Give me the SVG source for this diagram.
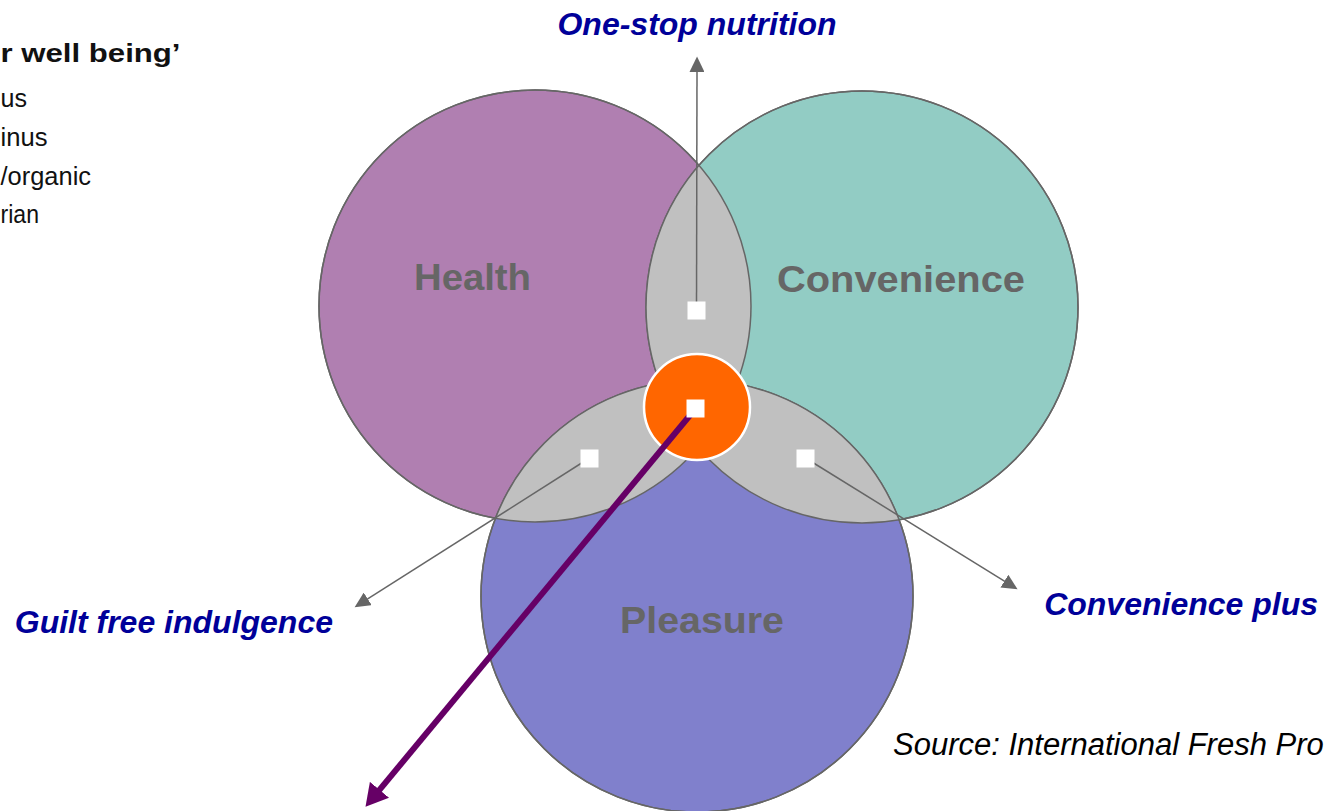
<svg xmlns="http://www.w3.org/2000/svg" width="1325" height="811" viewBox="0 0 1325 811">
  <style>
    text { font-family: "Liberation Sans", Arial, sans-serif; }
    .set { stroke: #666666; stroke-width: 1.5; }
    .ring { fill: none; stroke: #666666; stroke-width: 1.5; }
    .lens { fill: #c0c0c0; }
    .circle-label { font-size: 37px; font-weight: bold; fill: #666666; }
    .callout { font-size: 32px; font-weight: bold; font-style: italic; fill: #000099; }
    .list { font-size: 26px; fill: #111111; }
    .link { stroke: #666666; stroke-width: 1.5; fill: none; marker-end: url(#head); }
    .main-link { stroke: #660066; stroke-width: 6; fill: none; marker-end: url(#bighead); }
    .dot { fill: #ffffff; }
  </style>
  <defs>
    <clipPath id="clipH"><circle cx="535" cy="306" r="216"/></clipPath>
    <clipPath id="clipC"><circle cx="862" cy="307" r="216"/></clipPath>
    <marker id="head" markerUnits="userSpaceOnUse" markerWidth="16" markerHeight="15" refX="0.5" refY="7.5" orient="auto" viewBox="0 0 16 15">
      <path d="M0,0 L15.5,7.5 L0,15 z" fill="#666666"/>
    </marker>
    <marker id="bighead" markerUnits="userSpaceOnUse" markerWidth="23" markerHeight="25" refX="1" refY="12.5" orient="auto" viewBox="0 0 23 25">
      <path d="M0,0 L22,12.5 L0,25 z" fill="#660066"/>
    </marker>
  </defs>

  <!-- heading fragment and list, top left -->
  <g id="heading">
    <text x="0.5" y="62" font-size="26" font-weight="bold" fill="#111111" textLength="180" lengthAdjust="spacingAndGlyphs">r well being’</text>
    <text class="list" x="0.5" y="107" textLength="26.5" lengthAdjust="spacingAndGlyphs">us</text>
    <text class="list" x="0.5" y="146" textLength="47" lengthAdjust="spacingAndGlyphs">inus</text>
    <text class="list" x="0.5" y="185" textLength="90.5" lengthAdjust="spacingAndGlyphs">/organic</text>
    <text class="list" x="0.5" y="223" textLength="38.5" lengthAdjust="spacingAndGlyphs">rian</text>
  </g>

  <!-- the three sets -->
  <g id="health">
    <circle class="set" cx="535" cy="306" r="216" fill="#b07fb1"/>
  </g>
  <g id="convenience">
    <circle class="set" cx="862" cy="307" r="216" fill="#92ccc4"/>
  </g>
  <g id="pleasure">
    <circle class="set" cx="697" cy="596" r="216" fill="#8080cc"/>
  </g>

  <!-- pairwise overlaps -->
  <g id="overlaps">
    <circle class="lens" cx="862" cy="307" r="216" clip-path="url(#clipH)"/>
    <circle class="lens" cx="697" cy="596" r="216" clip-path="url(#clipH)"/>
    <circle class="lens" cx="697" cy="596" r="216" clip-path="url(#clipC)"/>
    <circle class="ring" cx="535" cy="306" r="216"/>
    <circle class="ring" cx="862" cy="307" r="216"/>
    <circle class="ring" cx="697" cy="596" r="216"/>
  </g>

  <g id="core">
    <circle cx="697" cy="407" r="53" fill="#ff6600" stroke="#ffffff" stroke-width="2.5"/>
  </g>

  <!-- set labels -->
  <g id="labels">
    <text class="circle-label" x="414" y="290" textLength="117" lengthAdjust="spacingAndGlyphs">Health</text>
    <text class="circle-label" x="777" y="292" textLength="248" lengthAdjust="spacingAndGlyphs">Convenience</text>
    <text class="circle-label" x="620" y="633" textLength="164" lengthAdjust="spacingAndGlyphs">Pleasure</text>
  </g>

  <!-- connectors -->
  <g id="connectors">
    <line class="link" x1="696.5" y1="310" x2="697" y2="71.5"/>
    <line class="link" x1="589.5" y1="458" x2="367.3" y2="599.2"/>
    <line class="link" x1="805.5" y1="458" x2="1004.8" y2="581.4"/>
    <line class="main-link" x1="696" y1="408" x2="378.9" y2="790.6"/>
  </g>

  <!-- overlap markers -->
  <g id="markers">
    <rect class="dot" x="687.5" y="301.5" width="18" height="18"/>
    <rect class="dot" x="686.5" y="399.5" width="18" height="18"/>
    <rect class="dot" x="580.5" y="449.5" width="18" height="18"/>
    <rect class="dot" x="796.5" y="449.5" width="18" height="18"/>
  </g>

  <!-- callouts -->
  <g id="callouts">
    <text class="callout" x="697" y="35" text-anchor="middle">One-stop nutrition</text>
    <text class="callout" x="333" y="633" text-anchor="end">Guilt free indulgence</text>
    <text class="callout" x="1318" y="615" text-anchor="end">Convenience plus</text>
  </g>

  <g id="source">
    <text x="893" y="755" font-size="31" font-style="italic" fill="#000000">Source: International Fresh Pro</text>
  </g>
</svg>
